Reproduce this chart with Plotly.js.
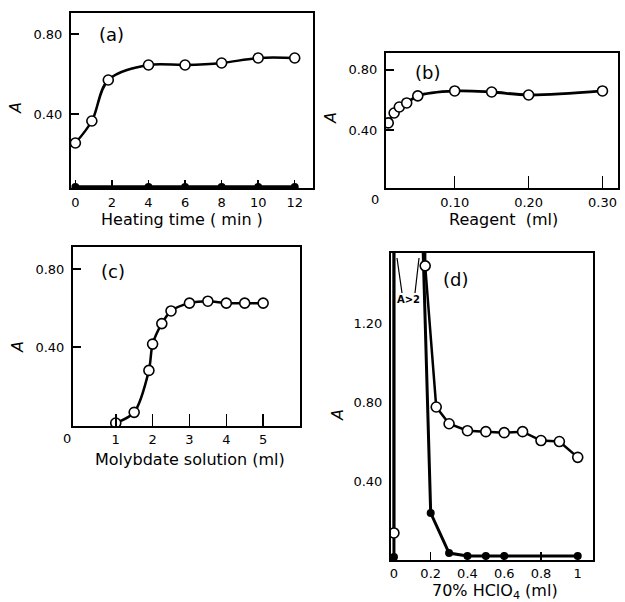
<!DOCTYPE html>
<html>
<head>
<meta charset="utf-8">
<script src="https://cdn.plot.ly/plotly-3.0.1.min.js"></script>
<style>html,body{margin:0;padding:0;background:#fff;}#chart{width:625px;height:602px;}</style>
</head>
<body>
<div id="chart"></div>
<script>
// (a) Heating time
const aTime = [0, 0.9, 1.8, 4, 6, 8, 10, 12];
const aAbs = [0.255, 0.365, 0.57, 0.645, 0.645, 0.655, 0.68, 0.68];
const aBlankTime = [0, 4, 6, 8, 10, 12];
const aBlankAbs = [0.035, 0.035, 0.035, 0.035, 0.035, 0.035];
const aTicks = [0, 2, 4, 6, 8, 10, 12];

// (b) Reagent
const bReagent = [0.01, 0.018, 0.025, 0.035, 0.05, 0.10, 0.15, 0.20, 0.30];
const bAbs = [0.447, 0.513, 0.553, 0.58, 0.627, 0.66, 0.653, 0.633, 0.66];
const bTicks = [0.1, 0.2, 0.3];
const bTickText = ['0.10', '0.20', '0.30'];

// (c) Molybdate solution
const cMoly = [1, 1.5, 1.9, 2.0, 2.25, 2.5, 3, 3.5, 4, 4.5, 5];
const cAbs = [0.01, 0.065, 0.28, 0.415, 0.52, 0.585, 0.625, 0.635, 0.625, 0.625, 0.625];
const cTicks = [1, 2, 3, 4, 5];

// (d) 70% HClO4 ; 2.5 stands for off-scale values (A > 2)
const dOpenX = [0, 0, 0.165, 0.17, 0.23, 0.3, 0.4, 0.5, 0.6, 0.7, 0.8, 0.9, 1.0];
const dOpenAbs = [0.137, 2.5, 2.5, 1.49, 0.775, 0.69, 0.655, 0.65, 0.645, 0.65, 0.605, 0.60, 0.52];
const dFilledX = [0, 0, 0.13, 0.2, 0.3, 0.4, 0.5, 0.6, 1.0];
const dFilledAbs = [0.015, 2.5, 2.5, 0.238, 0.035, 0.02, 0.02, 0.02, 0.02];
const dTicks = [0, 0.2, 0.4, 0.6, 0.8, 1];
const dTickText = ['0', '0.2', '0.4', '0.6', '0.8', '1'];
const yTicks = [0.4, 0.8];
const dYTicks = [0.4, 0.8, 1.2];

// Axis titles
const xTitles = ['Heating time ( min )', 'Reagent  (ml)', 'Molybdate solution (ml)', '70% HClO<sub>4</sub> (ml)'];
const panelLabels = ['(a)', '(b)', '(c)', '(d)'];

const FONT = 'DejaVu Sans, sans-serif';
const openMarker = {symbol: 'circle', size: 10, color: '#ffffff', line: {color: '#000', width: 1.6}};
const filledMarker = {symbol: 'circle', size: 8, color: '#000'};

const traces = [
  {x: aBlankTime, y: aBlankAbs, xaxis: 'x', yaxis: 'y', mode: 'lines+markers',
   line: {color: '#000', width: 3.5}, marker: filledMarker},
  {x: aTime, y: aAbs, xaxis: 'x', yaxis: 'y', mode: 'lines+markers',
   line: {color: '#000', width: 2.5, shape: 'spline', smoothing: 1}, marker: openMarker},
  {x: bReagent, y: bAbs, xaxis: 'x2', yaxis: 'y2', mode: 'lines+markers',
   line: {color: '#000', width: 2.8, shape: 'spline', smoothing: 1}, marker: openMarker},
  {x: cMoly, y: cAbs, xaxis: 'x3', yaxis: 'y3', mode: 'lines+markers',
   line: {color: '#000', width: 2.5, shape: 'spline', smoothing: 0.8}, marker: openMarker},
  {x: dFilledX, y: dFilledAbs, xaxis: 'x4', yaxis: 'y4', mode: 'lines+markers',
   line: {color: '#000', width: 3}, marker: filledMarker},
  {x: dOpenX, y: dOpenAbs, xaxis: 'x4', yaxis: 'y4', mode: 'lines+markers',
   line: {color: '#000', width: 2.5}, marker: openMarker}
];

function ax(domain, range, extra) {
  return Object.assign({
    domain: domain, range: range, showline: true, mirror: true, linecolor: '#000', linewidth: 2,
    ticks: 'inside', ticklen: 8, tickwidth: 1.5, tickcolor: '#000', showgrid: false, zeroline: false,
    tickfont: {family: FONT, size: 13, color: '#000'}, ticklabelstandoff: 4
  }, extra);
}

function note(text, x, y, size, extra) {
  return Object.assign({text: text, xref: 'paper', yref: 'paper', x: x / 625, y: 1 - y / 602,
    xanchor: 'center', yanchor: 'middle', showarrow: false,
    font: {family: FONT, size: size, color: '#000'}}, extra || {});
}

const layout = {
  width: 625, height: 602, margin: {l: 0, r: 0, t: 0, b: 0},
  paper_bgcolor: '#fff', plot_bgcolor: '#fff', showlegend: false,
  xaxis: ax([0.1136, 0.5008], [-0.24, 13.0], {anchor: 'y', tickvals: aTicks, ticklabelstandoff: 1}),
  yaxis: ax([0.6877, 0.9784], [0.03, 0.905], {anchor: 'x', tickvals: yTicks, tickformat: '.2f'}),
  xaxis2: ax([0.6176, 0.9888], [0.007, 0.321], {anchor: 'y2', tickvals: bTicks, ticktext: bTickText, ticklen: 12, ticklabelstandoff: 1}),
  yaxis2: ax([0.6877, 0.9120], [0.0133, 0.913], {anchor: 'x2', tickvals: yTicks, tickformat: '.2f'}),
  xaxis3: ax([0.1168, 0.48], [-0.16, 6.0], {anchor: 'y3', tickvals: cTicks, ticklen: 12, ticklabelstandoff: 0}),
  yaxis3: ax([0.2924, 0.5897], [-0.005, 0.913], {anchor: 'x3', tickvals: yTicks, tickformat: '.2f'}),
  xaxis4: ax([0.6256, 0.9488], [-0.016, 1.083], {anchor: 'y4', tickvals: dTicks, ticktext: dTickText, ticklabelstandoff: 0}),
  yaxis4: ax([0.0698, 0.5797], [0, 1.555], {anchor: 'x4', tickvals: dYTicks, tickformat: '.2f', ticklen: 0}),
  annotations: [
    note(xTitles[0], 182, 220, 16),
    note(xTitles[1], 503, 220, 16),
    note(xTitles[2], 190, 459, 16),
    note(xTitles[3], 495, 591, 16),
    note(panelLabels[0], 111, 34, 18),
    note(panelLabels[1], 427, 72, 18),
    note(panelLabels[2], 113, 271, 18),
    note(panelLabels[3], 455, 280, 18),
    note('<i>A</i>', 15, 108, 16, {textangle: -90}),
    note('<i>A</i>', 330, 118, 16, {textangle: -90}),
    note('<i>A</i>', 18, 347, 16, {textangle: -90}),
    note('<i>A</i>', 337, 415, 16, {textangle: -90}),
    note('0', 375, 200, 13),
    note('0', 67, 438, 13),
    note('<b>A>2</b>', 408, 300, 10)
  ],
  shapes: [
    {type: 'line', xref: 'paper', yref: 'paper', x0: 397 / 625, y0: 1 - 258 / 602, x1: 402 / 625, y1: 1 - 293 / 602, line: {color: '#000', width: 1.2}},
    {type: 'line', xref: 'paper', yref: 'paper', x0: 419 / 625, y0: 1 - 258 / 602, x1: 415 / 625, y1: 1 - 293 / 602, line: {color: '#000', width: 1.2}}
  ]
};

Plotly.newPlot('chart', traces, layout, {staticPlot: true, displayModeBar: false});
</script>
</body>
</html>
